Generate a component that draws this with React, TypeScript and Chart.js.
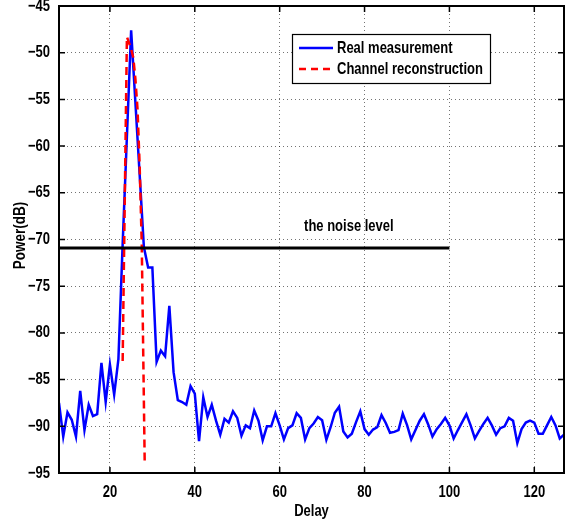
import { useEffect, useRef } from "react";
import { Chart, registerables } from "chart.js";

Chart.register(...registerables);

// ---- data ----
const delays = [
  8, 9, 10, 11, 12, 13, 14, 15, 16, 17, 18, 19, 20, 21, 22, 23, 24, 25, 26, 27,
  28, 29, 30, 31, 32, 33, 34, 35, 36, 37, 38, 39, 40, 41, 42, 43, 44, 45, 46, 47,
  48, 49, 50, 51, 52, 53, 54, 55, 56, 57, 58, 59, 60, 61, 62, 63, 64, 65, 66, 67,
  68, 69, 70, 71, 72, 73, 74, 75, 76, 77, 78, 79, 80, 81, 82, 83, 84, 85, 86, 87,
  88, 89, 90, 91, 92, 93, 94, 95, 96, 97, 98, 99, 100, 101, 102, 103, 104, 105, 106, 107,
  108, 109, 110, 111, 112, 113, 114, 115, 116, 117, 118, 119, 120, 121, 122, 123, 124, 125, 126, 127,
];

const realMeasurement = [
  -87.5, -91.1, -88.5, -89.3, -91.1, -86.2, -90.4, -87.7, -88.9, -88.7,
  -83.2, -87.4, -83.4, -86.6, -82.8, -70.5, -59.0, -47.6, -55.3, -63.0,
  -70.8, -73.0, -73.0, -83.1, -81.9, -82.5, -77.1, -84.2, -87.2, -87.4,
  -87.7, -85.7, -86.5, -91.6, -86.9, -89.0, -87.7, -89.4, -90.9, -89.2,
  -89.6, -88.4, -89.1, -91.0, -89.9, -90.2, -88.3, -89.4, -91.5, -90.0,
  -90.0, -88.6, -89.9, -91.4, -90.2, -89.9, -88.6, -89.1, -91.4, -90.2,
  -89.7, -89.0, -89.35, -91.45, -90.1, -88.55, -87.9, -90.55, -91.2, -90.8,
  -89.55, -88.4, -90.3, -90.9, -90.35, -90.1, -88.8, -89.65, -90.7, -90.6,
  -90.4, -88.65, -89.85, -91.4, -90.4, -89.4, -88.7, -89.8, -91.1, -90.3,
  -89.75, -89.1, -89.9, -91.3, -90.4, -89.55, -88.7, -89.9, -91.3, -90.5,
  -89.75, -89.1, -89.9, -90.9, -90.2, -90.0, -89.1, -89.4, -91.8, -90.3,
  -89.6, -89.4, -89.6, -90.8, -90.8, -89.9, -89.0, -89.9, -91.3, -90.9,
];

const reconDelays = [23, 24, 25, 25.5, 26, 26.5, 27, 27.5, 28.2];
const reconPower = [-83.0, -48.3, -49.6, -50.5, -52.8, -56.0, -62.0, -70.5, -94.0];

const noiseDelays = [8, 100];
const noisePower = [-70.9, -70.9];

const seriesLabels = ["Real measurement", "Channel reconstruction"];
const noiseText = "the noise level";
const noiseTextPos = [76.3, -68.6];

const xTitle = "Delay";
const yTitle = "Power(dB)";
const xRange = [8, 127];
const yRange = [-95, -45];
const xStep = 20;
const yStep = 5;

const FONT = '"Liberation Sans", Arial, Helvetica, sans-serif';
const SY = 1.27; // vertical stretch of the original's lettering

function fmtY(v: number) {
  return v < 0 ? "\u2212" + Math.abs(v) : String(v);
}

export default function App() {
  const ref = useRef<HTMLCanvasElement>(null);

  useEffect(() => {
    const canvas = ref.current;
    if (!canvas) return;

    const txt = (
      ctx: CanvasRenderingContext2D,
      s: string,
      x: number,
      y: number,
      size: number,
      align: CanvasTextAlign,
      rot = 0
    ) => {
      ctx.save();
      ctx.translate(x, y);
      if (rot) ctx.rotate(rot);
      ctx.scale(1, SY);
      ctx.font = `bold ${size}px ${FONT}`;
      ctx.fillStyle = "#000";
      ctx.textAlign = align;
      ctx.textBaseline = "middle";
      ctx.fillText(s, 0, 0);
      ctx.restore();
    };

    const overlay = {
      id: "overlay",
      afterDraw(chart: any) {
        const { ctx, chartArea } = chart;
        const xs = chart.scales.x;
        const ys = chart.scales.y;
        const { left, right, top, bottom } = chartArea;

        ctx.save();
        ctx.strokeStyle = "#000";
        ctx.lineWidth = 2;
        ctx.setLineDash([]);
        ctx.strokeRect(left, top, right - left, bottom - top);

        ctx.lineWidth = 1.5;
        const tl = 6;
        xs.ticks.forEach((t: any) => {
          const px = xs.getPixelForValue(t.value);
          ctx.beginPath();
          ctx.moveTo(px, bottom);
          ctx.lineTo(px, bottom - tl);
          ctx.moveTo(px, top);
          ctx.lineTo(px, top + tl);
          ctx.stroke();
        });
        ys.ticks.forEach((t: any) => {
          const py = ys.getPixelForValue(t.value);
          ctx.beginPath();
          ctx.moveTo(left, py);
          ctx.lineTo(left + tl, py);
          ctx.moveTo(right, py);
          ctx.lineTo(right - tl, py);
          ctx.stroke();
        });

        const bx = 292.5, by = 34.5, bw = 198, bh = 49;
        ctx.fillStyle = "#fff";
        ctx.fillRect(bx, by, bw, bh);
        ctx.strokeStyle = "#000";
        ctx.lineWidth = 1.2;
        ctx.strokeRect(bx, by, bw, bh);
        const rows = [
          { y: 48, color: "#0000ff", dash: [] as number[] },
          { y: 69, color: "#ff0000", dash: [7, 5] },
        ];
        rows.forEach((r) => {
          ctx.beginPath();
          ctx.strokeStyle = r.color;
          ctx.lineWidth = 2.5;
          ctx.setLineDash(r.dash);
          ctx.moveTo(299, r.y);
          ctx.lineTo(333, r.y);
          ctx.stroke();
        });
        ctx.setLineDash([]);
        ctx.restore();

        xs.ticks.forEach((t: any) =>
          txt(ctx, String(t.value), xs.getPixelForValue(t.value), bottom + 19, 13, "center")
        );
        ys.ticks.forEach((t: any) =>
          txt(ctx, fmtY(t.value), left - 9, ys.getPixelForValue(t.value), 13, "right")
        );
        txt(ctx, xTitle, (left + right) / 2, 511, 13, "center");
        txt(ctx, yTitle, 20.5, (top + bottom) / 2 - 4, 13.5, "center", -Math.PI / 2);
        txt(
          ctx,
          noiseText,
          xs.getPixelForValue(noiseTextPos[0]),
          ys.getPixelForValue(noiseTextPos[1]),
          13,
          "center"
        );
        rows.forEach((r, i) => txt(ctx, seriesLabels[i], 337, r.y + 0.5, 13, "left"));
      },
    };

    const gridColor = "rgba(0,0,0,0.55)";
    const hidden = "rgba(0,0,0,0)";
    const tinyFont = { size: 1, lineHeight: 1 };

    const chart = new Chart(canvas, {
      type: "line",
      data: {
        datasets: [
          {
            label: seriesLabels[0],
            data: delays.map((d, i) => ({ x: d, y: realMeasurement[i] })),
            borderColor: "#0000ff",
            backgroundColor: "#0000ff",
            borderWidth: 2.5,
            pointRadius: 0,
            tension: 0,
            order: 2,
          },
          {
            label: seriesLabels[1],
            data: reconDelays.map((d, i) => ({ x: d, y: reconPower[i] })),
            borderColor: "#ff0000",
            backgroundColor: "#ff0000",
            borderWidth: 2.5,
            borderDash: [8, 5],
            pointRadius: 0,
            tension: 0,
            order: 1,
          },
          {
            label: "noise",
            data: noiseDelays.map((d, i) => ({ x: d, y: noisePower[i] })),
            borderColor: "#000",
            backgroundColor: "#000",
            borderWidth: 3,
            pointRadius: 0,
            tension: 0,
            order: 0,
          },
        ],
      },
      options: {
        responsive: false,
        animation: false,
        devicePixelRatio: 1,
        layout: { padding: { top: 6, right: 8, left: 0, bottom: 0 } },
        plugins: { legend: { display: false }, tooltip: { enabled: false } },
        scales: {
          x: {
            type: "linear",
            min: xRange[0],
            max: xRange[1],
            afterFit: (s: any) => {
              s.height = 52;
            },
            ticks: {
              stepSize: xStep,
              includeBounds: false,
              autoSkip: false,
              maxRotation: 0,
              color: hidden,
              font: tinyFont,
              padding: 0,
            },
            grid: { color: gridColor, lineWidth: 1, drawTicks: false },
            border: { display: false, dash: [1, 3] },
          },
          y: {
            type: "linear",
            min: yRange[0],
            max: yRange[1],
            afterFit: (s: any) => {
              s.width = 59;
            },
            ticks: { stepSize: yStep, color: hidden, font: tinyFont, padding: 0 },
            grid: { color: gridColor, lineWidth: 1, drawTicks: false },
            border: { display: false, dash: [1, 3] },
          },
        },
      },
      plugins: [overlay],
    });

    return () => chart.destroy();
  }, []);

  return (
    <div style={{ position: "absolute", left: 0, top: 0, width: 572, height: 525 }}>
      <canvas ref={ref} width={572} height={525} />
    </div>
  );
}
